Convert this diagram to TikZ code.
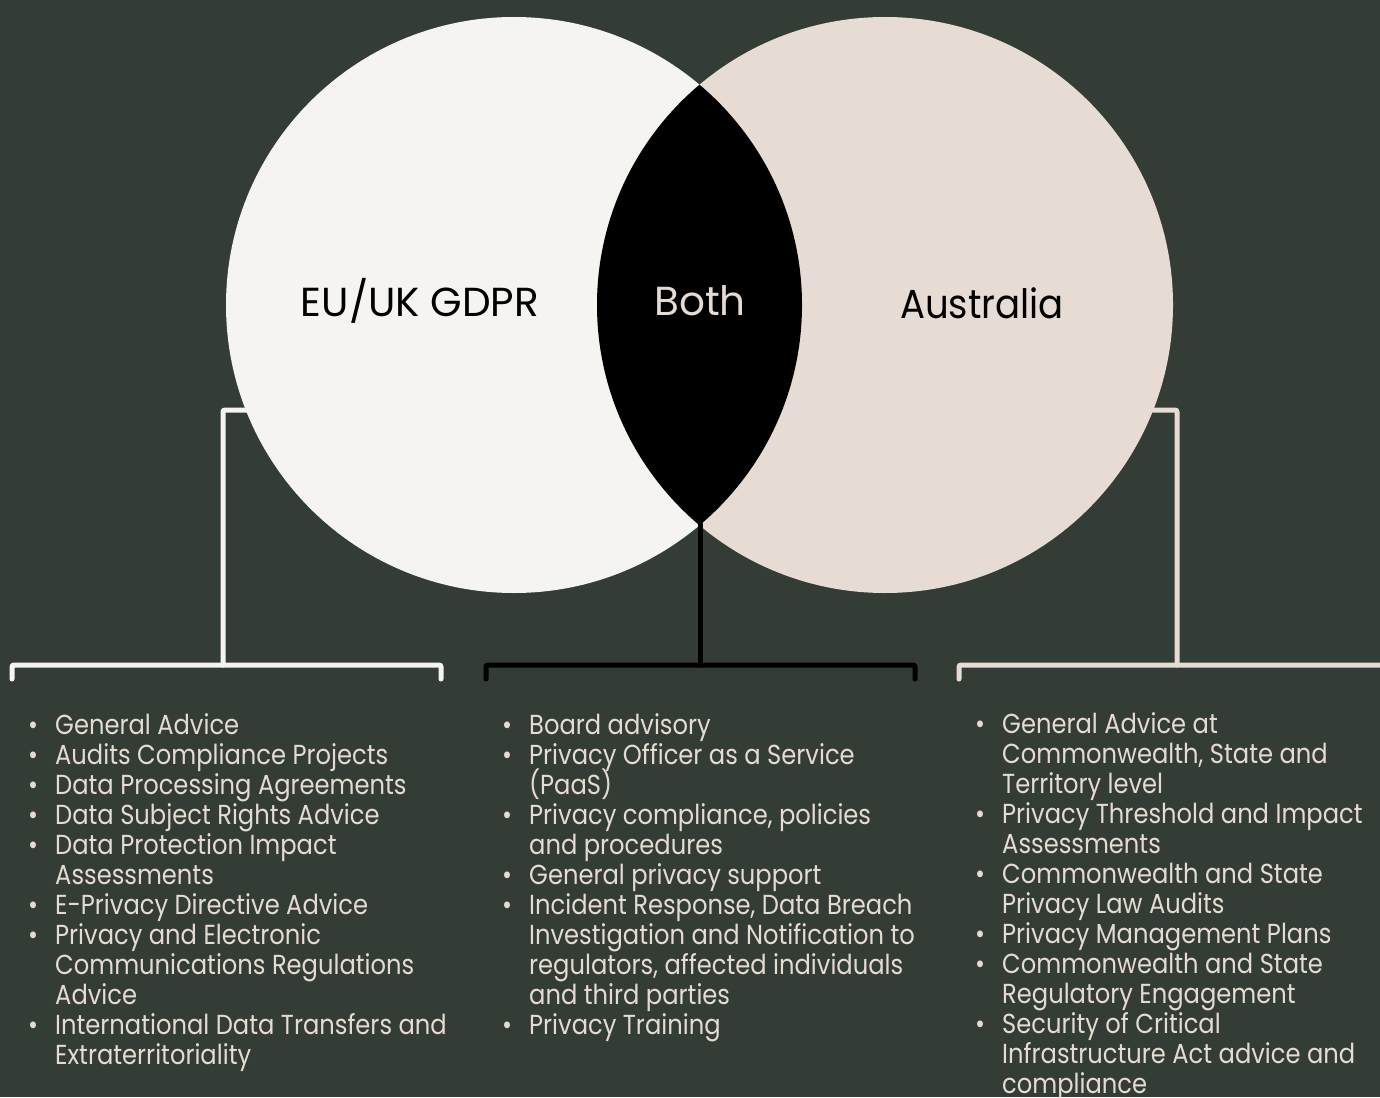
\documentclass[tikz,border=0pt]{standalone}
\usepackage{fontspec}
\setmainfont{Poppins}[FakeStretch=0.88]
\newfontfamily\titlefont{Poppins}
\newfontfamily\titlenarrow{Poppins}[FakeStretch=0.915]
\definecolor{bg}{HTML}{333D35}
\definecolor{eucol}{HTML}{F5F4F0}
\definecolor{aucol}{HTML}{E7DCD4}
\definecolor{txt}{HTML}{E6DBD3}
\newcommand{\bli}{\makebox[27pt][l]{\textbullet}}
\newcommand{\cli}{\hspace*{27pt}}
\newcommand{\listfont}{\fontsize{27.5}{30}\selectfont\lineskiplimit=-100pt\relax\lineskip=0pt\relax}
\tikzset{
  venn/.style={circle, minimum size=576pt, inner sep=0pt},
  title/.style={font=\titlefont\fontsize{40.5}{48}\selectfont, inner sep=0pt},
  listtext/.style={font=\listfont, text=txt, align=left, anchor=base west, inner sep=0pt},
  brk/.style={line width=5pt, rounded corners=2pt, line cap=round}
}
\begin{document}
\begin{tikzpicture}[x=1pt,y=-1pt]
\fill[bg] (0,0) rectangle (1380,1097);
\useasboundingbox (0,0) rectangle (1380,1097);
% circles
\node[venn, fill=eucol] (eu) at (514,305) {};
\node[venn, fill=aucol] (au) at (885,305) {};
\begin{scope}
  \clip (514,305) circle (288pt);
  \fill[black] (885,305) circle (288pt);
\end{scope}
\node[title, text=black] (eut) at (420,301) {EU/UK GDPR};
\node[title, text=txt] (both) at (700,301) {Both};
\node[title, font=\titlenarrow\fontsize{40.5}{48}\selectfont, text=black] (aut) at (982,303) {Australia};
% coordinates
\coordinate (lin) at (250,410);
\coordinate (lv) at (223,665);
\coordinate (l1) at (12,679);
\coordinate (l2) at (441,679);
\coordinate (mtop) at (700,524);
\coordinate (mv) at (700,665);
\coordinate (m1) at (486,679);
\coordinate (m2) at (915,679);
\coordinate (rin) at (1150,410);
\coordinate (rv) at (1177,665);
\coordinate (r1) at (959,679);
\coordinate (r2) at (1390,665);
% connectors
\draw[brk, eucol] (lin) -| (lv);
\draw[brk, eucol] (l1) |- (lv) -| (l2);
\draw[brk, black] (mtop) -- (mv);
\draw[brk, black] (m1) |- (mv) -| (m2);
\draw[brk, aucol] (rin) -| (rv);
\draw[brk, aucol] (r1) |- (r2);
% lists (anchored at the baseline of their last line)
\node[listtext] (leftlist) at (28,1064) {%
\bli General Advice\\
\bli Audits Compliance Projects\\
\bli Data Processing Agreements\\
\bli Data Subject Rights Advice\\
\bli Data Protection Impact\\
\cli Assessments\\
\bli E-Privacy Directive Advice\\
\bli Privacy and Electronic\\
\cli Communications Regulations\\
\cli Advice\\
\bli International Data Transfers and\\
\cli Extraterritoriality};
\node[listtext] (midlist) at (502,1034) {%
\bli Board advisory\\
\bli Privacy Officer as a Service\\
\cli (PaaS)\\
\bli Privacy compliance, policies\\
\cli and procedures\\
\bli General privacy support\\
\bli Incident Response, Data Breach\\
\cli Investigation and Notification to\\
\cli regulators, affected individuals\\
\cli and third parties\\
\bli Privacy Training};
\node[listtext] (rightlist) at (975,1093) {%
\bli General Advice at\\
\cli Commonwealth, State and\\
\cli Territory level\\
\bli Privacy Threshold and Impact\\
\cli Assessments\\
\bli Commonwealth and State\\
\cli Privacy Law Audits\\
\bli Privacy Management Plans\\
\bli Commonwealth and State\\
\cli Regulatory Engagement\\
\bli Security of Critical\\
\cli Infrastructure Act advice and\\
\cli compliance};
\end{tikzpicture}
\end{document}
